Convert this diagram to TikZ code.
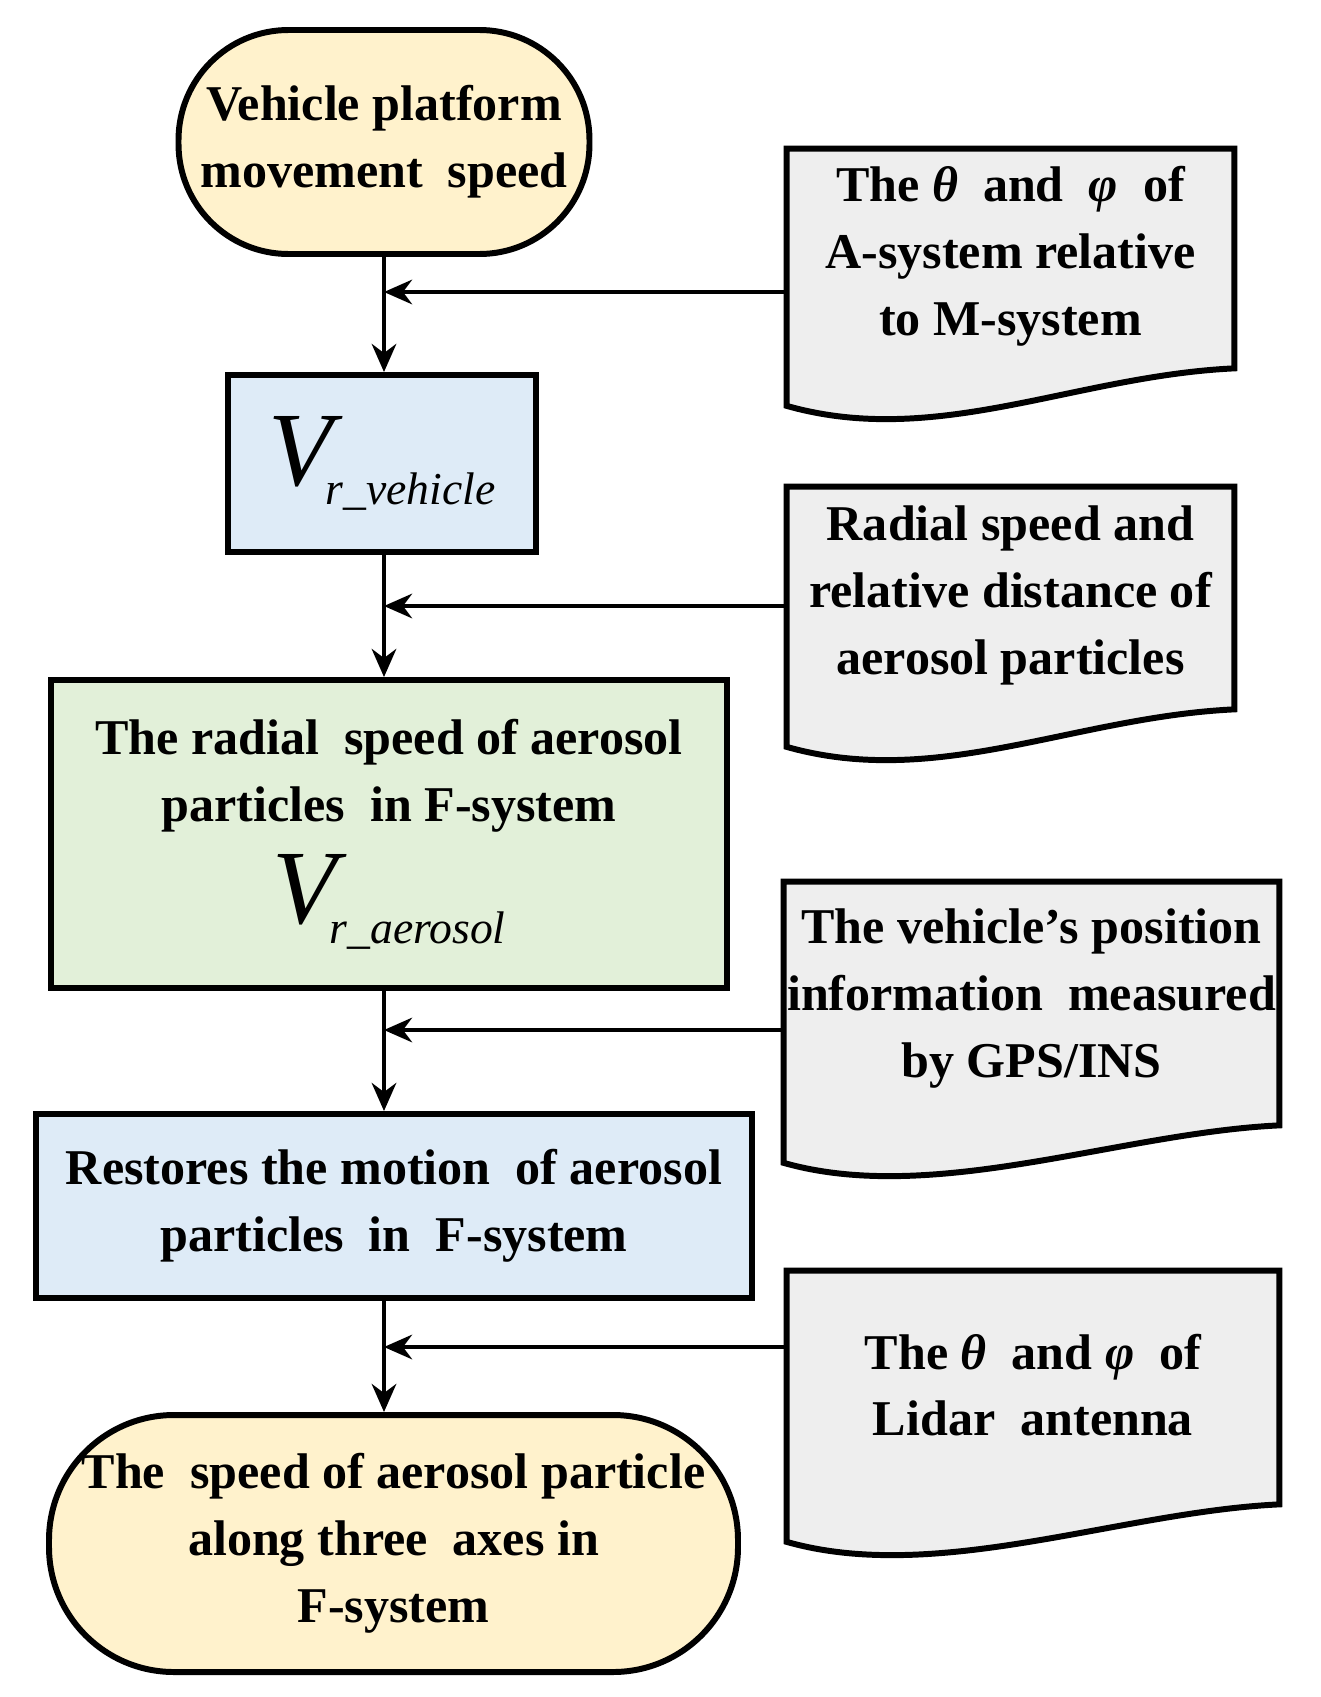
\documentclass[tikz,border=0pt]{standalone}
\usepackage{fontspec}
\setmainfont{Liberation Serif}
\usetikzlibrary{arrows.meta}
\definecolor{tyel}{HTML}{FFF2CC}
\definecolor{tblue}{HTML}{DEEBF7}
\definecolor{tgreen}{HTML}{E2F0D9}
\definecolor{tgray}{HTML}{EEEEEE}
\begin{document}
\begin{tikzpicture}[
  box/.style={draw=black,line width=3.4pt,align=center,inner sep=0pt,
    font=\bfseries\fontsize{28.5}{38}\selectfont},
  term/.style={box,fill=tyel},
  doc/.style={align=center,inner sep=0pt,font=\bfseries\fontsize{28.5}{38}\selectfont},
  docline/.style={draw=black,line width=3.4pt,fill=tgray},
  arr/.style={line width=2.2pt,-{Stealth[length=16pt,width=14pt]}}
]
\useasboundingbox (0,0) rectangle (26.42,-33.94);
% main flow
\node[term,rounded corners=2.2cm,minimum width=8.22cm,minimum height=4.48cm] (top) at (7.68,-2.84) {Vehicle platform\\movement\ \ speed};
\node[box,fill=tblue,minimum width=6.16cm,minimum height=3.54cm] (vv) at (7.64,-9.27)
  {\fontsize{60}{60}\selectfont\mdseries\itshape V\kern-4pt\raisebox{-0.4ex}{\fontsize{26}{26}\selectfont r\_vehicle}};
\node[box,fill=tgreen,minimum width=13.52cm,minimum height=6.16cm] (gr) at (7.78,-16.68)
  {The radial\ \ speed of aerosol\\particles\ \ in F-system\\[12pt]
   {\fontsize{60}{60}\selectfont\mdseries\itshape V\kern-4pt\raisebox{-0.4ex}{\fontsize{26}{26}\selectfont r\_aerosol}}};
\node[box,fill=tblue,minimum width=14.32cm,minimum height=3.68cm] (rs) at (7.88,-24.12)
  {Restores the motion\ \ of aerosol\\particles\ \ in\ \ F-system};
\node[term,rounded corners=2.5cm,minimum width=13.78cm,minimum height=5.14cm] (bt) at (7.87,-30.87)
  {The\ \ speed of aerosol particle\\along\ three\ \ axes in\\F-system};
% documents
\foreach \n/\cx/\cy/\w/\h in {d1/20.21/-5.17/8.94/4.38, d2/20.21/-11.96/8.94/4.44, d3/20.63/-20.07/9.9/4.86, d4/20.66/-27.75/9.84/4.66}{
  \node[minimum width=\w cm,minimum height=\h cm,inner sep=0pt] (\n) at (\cx,\cy) {};
  \draw[docline] (\n.north west) -- (\n.north east) -- (\n.south east)
    .. controls ([xshift=-3.2cm,yshift=-0.15cm]\n.south east) and ([xshift=3cm,yshift=-1.6cm]\n.south west)
    .. ([yshift=-0.75cm]\n.south west) -- cycle;
}
\node[doc] (t1) at ([yshift=0.05cm]d1.center) {The \textit{θ}\ \ and\ \ \textit{φ}\ \ of\\A-system relative\\to M-system};
\node[doc] (t2) at ([yshift=0.05cm]d2.center) {Radial speed and\\relative distance of\\aerosol particles};
\node[doc] (t3) at ([yshift=0.1cm]d3.center) {The vehicle\symbol{39}s position\\information\ \ measured\\by GPS/INS};
\node[doc] (t4) at ([yshift=0.05cm]d4.center) {The \textit{θ}\ \ and \textit{φ}\ \ of\\Lidar\ \ antenna};
% joins
\coordinate (j1) at (7.68,-5.84);
\coordinate (j2) at (7.68,-12.12);
\coordinate (j3) at (7.68,-20.6);
\coordinate (j4) at (7.68,-26.94);
\draw[arr] (top.south -| j1) -- (vv.north -| j1);
\draw[arr] (vv.south -| j1) -- (gr.north -| j1);
\draw[arr] (gr.south -| j1) -- (rs.north -| j1);
\draw[arr] (rs.south -| j1) -- (bt.north -| j1);
\draw[arr] (d1.west |- j1) -- (j1);
\draw[arr] (d2.west |- j2) -- (j2);
\draw[arr] (d3.west |- j3) -- (j3);
\draw[arr] (d4.west |- j4) -- (j4);
\end{tikzpicture}
\end{document}
